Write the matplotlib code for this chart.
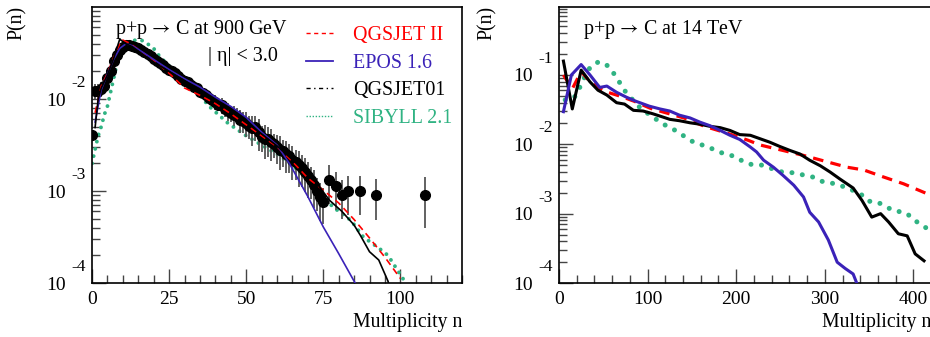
import matplotlib
matplotlib.use('Agg')
import matplotlib.pyplot as plt
import numpy as np
from matplotlib.lines import Line2D
from matplotlib.ticker import LogLocator, MultipleLocator, FixedLocator, FixedFormatter, NullFormatter

plt.rcParams['font.family'] = ['Liberation Serif', 'DejaVu Serif']
plt.rcParams['mathtext.fontset'] = 'stix'
plt.rcParams['axes.unicode_minus'] = False

RED = '#ff0000'
BLUE = '#3a22b8'
GREEN = '#30b383'

# ---- 900 GeV: measured points (log10 P) ----
data_n = np.concatenate([np.arange(0, 76), [77, 79, 81, 83, 87, 92, 108]])
data_log = [-2.39, -1.91, -1.91, -1.89, -1.86, -1.77, -1.70, -1.59, -1.52, -1.47,
            -1.43, -1.41, -1.41, -1.42, -1.43, -1.45, -1.47, -1.49, -1.51, -1.53,
            -1.56, -1.59, -1.61, -1.63, -1.66, -1.68, -1.70, -1.72, -1.75, -1.78,
            -1.80, -1.82, -1.85, -1.87, -1.88, -1.92, -1.93, -1.96, -1.99, -2.01,
            -2.03, -2.06, -2.07, -2.11, -2.13, -2.15, -2.17, -2.18, -2.23, -2.24,
            -2.26, -2.29, -2.32, -2.30, -2.36, -2.41, -2.43, -2.44, -2.47, -2.49,
            -2.52, -2.55, -2.57, -2.60, -2.62, -2.66, -2.69, -2.72, -2.75, -2.79,
            -2.84, -2.88, -2.93, -3.00, -3.07, -3.12,
            -2.88, -2.95, -3.04, -3.00, -3.00, -3.04, -3.04]
data_relerr = [0.15, 0.18, 0.18, 0.18, 0.15, 0.08, 0.06, 0.05, 0.05, 0.05,
               0.05, 0.05, 0.05, 0.05, 0.05, 0.05, 0.05, 0.05, 0.05, 0.05,
               0.06, 0.06, 0.06, 0.06, 0.06, 0.06, 0.06, 0.06, 0.06, 0.06,
               0.10, 0.12, 0.10, 0.14, 0.12, 0.15, 0.12, 0.16, 0.14, 0.15,
               0.18, 0.15, 0.20, 0.18, 0.22, 0.20, 0.25, 0.20, 0.28, 0.25,
               0.30, 0.28, 0.35, 0.30, 0.38, 0.32, 0.40, 0.35, 0.38, 0.30,
               0.35, 0.40, 0.32, 0.38, 0.35, 0.40, 0.36, 0.42, 0.38, 0.40,
               0.42, 0.38, 0.45, 0.40, 0.45, 0.42,
               0.45, 0.45, 0.45, 0.45, 0.45, 0.47, 0.57]

# ---- 900 GeV: models ----
qgsII_900_n = [1, 3, 5, 7, 9, 10, 12, 15, 20, 25, 30, 35, 40, 45, 50, 55, 60, 65, 70, 75,
               80, 85, 90, 95, 100]
qgsII_900_log = [-2.15, -1.86, -1.72, -1.55, -1.40, -1.36, -1.39, -1.46, -1.58, -1.72,
                 -1.88, -1.96, -2.05, -2.16, -2.28, -2.40, -2.52, -2.68, -2.86, -2.99,
                 -3.13, -3.31, -3.51, -3.72, -3.95]
epos_900_n = [1, 3, 5, 7, 9, 11, 13, 15, 20, 25, 30, 35, 40, 45, 50, 55, 60, 64, 70, 75,
              80, 85, 87]
epos_900_log = [-2.25, -1.90, -1.73, -1.57, -1.45, -1.40, -1.42, -1.46, -1.57, -1.68,
                -1.78, -1.87, -1.98, -2.08, -2.20, -2.36, -2.50, -2.70, -3.06, -3.39,
                -3.68, -3.98, -4.10]
qgs01_900_n = [1, 2, 3, 5, 7, 9, 11, 13, 15, 20, 25, 30, 35, 40, 45, 50, 55, 60, 65, 70,
               73, 77, 81, 85, 87, 90, 93, 96, 97]
qgs01_900_log = [-2.31, -2.00, -1.88, -1.74, -1.56, -1.35, -1.40, -1.43, -1.48, -1.60,
                 -1.70, -1.80, -1.91, -2.02, -2.13, -2.25, -2.38, -2.51, -2.66, -2.80,
                 -2.92, -3.10, -3.22, -3.37, -3.48, -3.66, -3.75, -3.98, -4.10]
sib_900_n = [0, 1, 2, 3, 4, 5, 6, 7, 8, 9, 10, 11, 12, 14, 16, 18, 20, 22, 25, 30,
             35, 38, 44, 50, 54, 60, 65, 70, 75, 78, 84, 86, 88, 93, 96, 101, 102]
sib_900_log = [-2.70, -2.55, -2.40, -2.30, -2.17, -2.08, -1.93, -1.78, -1.63, -1.53,
               -1.46, -1.42, -1.39, -1.36, -1.36, -1.40, -1.45, -1.54, -1.64, -1.80,
               -1.96, -2.08, -2.26, -2.40, -2.48, -2.60, -2.72, -2.88, -3.05, -3.17,
               -3.32, -3.41, -3.50, -3.62, -3.70, -3.96, -4.05]

# ---- 14 TeV: models ----
qgs01_14_n = [5, 15, 25, 35, 44, 54, 65, 74, 84, 95, 106, 118, 125, 136, 148, 159, 170,
              182, 193, 204, 216, 227, 238, 249, 261, 272, 283, 295, 306, 317, 332, 342,
              353, 363, 372, 383, 393, 402, 412]
qgs01_14_log = [-0.80, -1.49, -0.93, -1.10, -1.22, -1.29, -1.40, -1.42, -1.51, -1.52,
                -1.56, -1.61, -1.64, -1.66, -1.69, -1.71, -1.74, -1.76, -1.80, -1.86,
                -1.87, -1.92, -1.97, -2.03, -2.09, -2.14, -2.23, -2.31, -2.40, -2.50,
                -2.63, -2.81, -3.05, -3.00, -3.12, -3.29, -3.32, -3.58, -3.68]
qgsII_14_n = [5, 15, 25, 35, 45, 55, 70, 85, 103, 119, 141, 164, 190, 213, 227, 276,
              325, 344, 366, 389, 415, 425]
qgsII_14_log = [-1.00, -1.20, -0.95, -1.10, -1.19, -1.25, -1.31, -1.38, -1.48, -1.54,
                -1.62, -1.74, -1.84, -1.94, -2.01, -2.16, -2.33, -2.37, -2.47, -2.57,
                -2.71, -2.76]
epos_14_n = [5, 14, 25, 35, 46, 54, 65, 76, 87, 102, 114, 125, 136, 148, 159, 170, 182,
             193, 204, 216, 223, 231, 242, 253, 265, 276, 283, 293, 304, 314, 323, 332,
             336, 340]
epos_14_log = [-1.53, -1.00, -0.85, -1.00, -1.18, -1.16, -1.25, -1.32, -1.38, -1.45,
               -1.49, -1.52, -1.58, -1.62, -1.68, -1.73, -1.80, -1.87, -1.93, -2.04,
               -2.11, -2.23, -2.33, -2.45, -2.59, -2.76, -2.98, -3.12, -3.38, -3.70,
               -3.79, -3.87, -4.00, -4.30]
sib_14_n = [7, 12, 18, 22, 27, 32, 37, 45, 52, 57, 63, 69, 76, 84, 92, 103, 112, 122,
            133, 142, 152, 164, 174, 185, 197, 207, 217, 229, 240, 252, 264, 275, 286,
            298, 308, 319, 329, 340, 349, 359, 378, 390, 398, 405, 415, 425]
sib_14_log = [-1.36, -1.36, -1.31, -1.22, -1.08, -0.95, -0.86, -0.81, -0.84, -0.89,
              -1.00, -1.12, -1.26, -1.37, -1.48, -1.58, -1.66, -1.74, -1.81, -1.89,
              -1.97, -2.02, -2.07, -2.13, -2.17, -2.24, -2.29, -2.30, -2.35, -2.40,
              -2.41, -2.44, -2.47, -2.54, -2.56, -2.60, -2.65, -2.71, -2.82, -2.83,
              -2.96, -2.98, -3.05, -3.13, -3.21, -3.27]

legend_labels = ['QGSJET II', 'EPOS 1.6', 'QGSJET01', 'SIBYLL 2.1']
decades_900 = [-4, -3, -2]
decades_14 = [-4, -3, -2, -1]


def p(v):
    return 10 ** np.asarray(v, dtype=float)


def style_axis(ax, xmax, ymax, xmajor, xminor, decades):
    ax.set_yscale('log')
    ax.set_xlim(0, xmax)
    ax.set_ylim(1e-4, ymax)
    ax.xaxis.set_major_locator(MultipleLocator(xmajor))
    ax.xaxis.set_minor_locator(MultipleLocator(xminor))
    ax.yaxis.set_major_locator(FixedLocator(p(decades)))
    ax.yaxis.set_minor_locator(LogLocator(base=10, subs=np.arange(2, 10), numticks=20))
    # ROOT-like labels: "10" on the tick, exponent raised to its right
    ax.yaxis.set_major_formatter(FixedFormatter(['10'] * len(decades)))
    ax.yaxis.set_minor_formatter(NullFormatter())
    for d in decades:
        ax.annotate('%d' % d, xy=(0, 10.0 ** d), xycoords=('axes fraction', 'data'),
                    xytext=(-4.5, 11.5), textcoords='offset points',
                    ha='right', va='center', fontsize=12.5, annotation_clip=False)
    ax.tick_params(which='both', direction='in', top=False, right=False,
                   color='#444444', labelsize=14)
    ax.tick_params(which='major', length=10, width=1.0)
    ax.tick_params(which='minor', length=5.5, width=1.0)
    ax.tick_params(axis='x', pad=6)
    ax.tick_params(axis='y', pad=19)
    for s in ax.spines.values():
        s.set_linewidth(1.2)


fig = plt.figure(figsize=(9.3, 3.37), dpi=100)
ax1 = fig.add_axes([92 / 930, 54 / 337, 370 / 930, 276 / 337])
ax2 = fig.add_axes([559 / 930, 54 / 337, 373 / 930, 276 / 337])

# ---------- left panel ----------
style_axis(ax1, 120, 0.1, 25, 5, decades_900)
dp = p(data_log)
ax1.errorbar(data_n, dp, yerr=dp * np.asarray(data_relerr), fmt='o', color='black',
             ecolor='#555555', elinewidth=1.3, markersize=7, capsize=0, zorder=3)
ax1.plot(qgsII_900_n, p(qgsII_900_log), color=RED, lw=1.2, linestyle=(0, (4, 2.7)), zorder=4)
ax1.plot(epos_900_n, p(epos_900_log), color=BLUE, lw=1.2, zorder=4)
ax1.plot(qgs01_900_n, p(qgs01_900_log), color='black', lw=1.2, zorder=4)
ax1.plot(sib_900_n, p(sib_900_log), color=GREEN, lw=2.8, linestyle=(0, (0.01, 1.9)),
         dash_capstyle='round', zorder=2)

ax1.text(0.062, 0.918, r'p+p$\,\rightarrow\,$C at 900 GeV', transform=ax1.transAxes,
         fontsize=14.4, ha='left', va='center')
ax1.text(0.314, 0.822, '| \u03b7| < 3.0', transform=ax1.transAxes,
         fontsize=14.4, ha='left', va='center')

handles = [Line2D([], [], color=RED, lw=1.0, linestyle=(0, (3, 2.5))),
           Line2D([], [], color=BLUE, lw=1.3),
           Line2D([], [], color='black', lw=1.0, linestyle=(0, (3, 2.5, 1, 2.5))),
           Line2D([], [], color=GREEN, lw=1.0, linestyle=(0, (1, 1.2)))]
leg = ax1.legend(handles, legend_labels, loc='upper left', bbox_to_anchor=(0.578, 0.93),
                 frameon=False, borderpad=0, borderaxespad=0, handlelength=1.35,
                 handletextpad=1.0, labelspacing=0.42, fontsize=14.4)
for t, c in zip(leg.get_texts(), [RED, BLUE, 'black', GREEN]):
    t.set_color(c)

# ---------- right panel ----------
style_axis(ax2, 421, 0.955, 100, 20, decades_14)
ax2.plot(qgsII_14_n, p(qgsII_14_log), color=RED, lw=2.3, linestyle=(0, (3.3, 2.3)), zorder=3)
ax2.plot(sib_14_n, p(sib_14_log), color=GREEN, lw=3.6, linestyle=(0, (0.01, 2.1)),
         dash_capstyle='round', zorder=2)
ax2.plot(qgs01_14_n, p(qgs01_14_log), color='black', lw=2.2, zorder=4)
ax2.plot(epos_14_n, p(epos_14_log), color=BLUE, lw=2.2, zorder=5)
ax2.text(0.064, 0.918, r'p+p$\,\rightarrow\,$C at 14 TeV', transform=ax2.transAxes,
         fontsize=14.4, ha='left', va='center')

# axis titles
for xr, xl in [(462, 17), (931, 487)]:
    fig.text(xr / 930, 1 - 323 / 337, 'Multiplicity n', fontsize=14.2, ha='right', va='center')
    fig.text(xl / 930, 1 - 6 / 337, 'P(n)', fontsize=14.2, ha='center', va='top', rotation=90)

fig.savefig('out.png', dpi=100)
